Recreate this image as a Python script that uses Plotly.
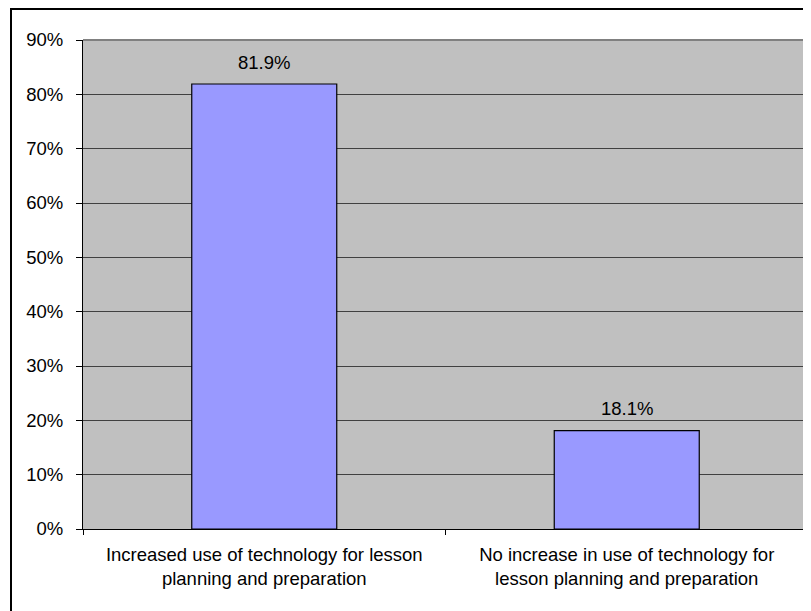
import plotly.graph_objects as go

categories = [
    "Increased use of technology for lesson<br>planning and preparation",
    "No increase in use of technology for<br>lesson planning and preparation",
]
values = [81.9, 18.1]
tick_vals = [0, 10, 20, 30, 40, 50, 60, 70, 80, 90]
tick_text = ["0%", "10%", "20%", "30%", "40%", "50%", "60%", "70%", "80%", "90%"]

FONT = "Liberation Sans, Arial, sans-serif"
FS = 18.5

# page is offset by the 8px default body margin
OFF = 8
W, H = 811 - OFF, 611 - OFF
L, R, T, B = 83 - OFF, 3, 40 - OFF, 82
pw = W - L - R
ph = H - T - B

fig = go.Figure()
fig.add_trace(go.Bar(
    x=categories, y=values, width=0.4,
    marker=dict(color="#9999FF", line=dict(color="#000000", width=1.2)),
    hoverinfo="skip",
))

for c, v in zip(categories, values):
    fig.add_annotation(x=c, y=v, text=f"{v:.1f}%", showarrow=False,
                       yanchor="middle", yshift=22,
                       font=dict(family=FONT, size=FS, color="#000000"))


def px_to_paper_x(px):
    return (px - OFF - L) / pw


def px_to_paper_y(py):
    return (H - B - (py - OFF)) / ph


# outer frame (top and left visible; right/bottom run off the page)
fig.add_shape(type="rect", xref="paper", yref="paper",
              x0=px_to_paper_x(11), x1=px_to_paper_x(830),
              y0=px_to_paper_y(640), y1=px_to_paper_y(9),
              line=dict(color="#000000", width=2), layer="above")
# plot area top/right border
fig.add_shape(type="line", xref="paper", yref="paper", x0=0, x1=1, y0=1, y1=1,
              line=dict(color="#808080", width=2), layer="below")
fig.add_shape(type="line", xref="paper", yref="paper", x0=1, x1=1, y0=0, y1=1,
              line=dict(color="#808080", width=2), layer="below")

fig.update_layout(
    width=W, height=H,
    margin=dict(l=L, r=R, t=T, b=B, autoexpand=False),
    paper_bgcolor="#FFFFFF",
    plot_bgcolor="#C0C0C0",
    showlegend=False,
    font=dict(family=FONT, size=FS, color="#000000"),
)
fig.update_xaxes(
    showline=True, linecolor="#000000", linewidth=1,
    ticks="outside", tickson="boundaries", ticklen=5, tickcolor="#000000",
    showgrid=False, tickfont=dict(family=FONT, size=FS, color="#000000"),
    ticklabelstandoff=9,
)
fig.update_yaxes(
    range=[0, 90], tickvals=tick_vals, ticktext=tick_text,
    showline=True, linecolor="#000000", linewidth=1,
    ticks="outside", ticklen=6, tickcolor="#000000",
    showgrid=True, gridcolor="#404040", gridwidth=1,
    zeroline=False, ticklabelstandoff=9,
    tickfont=dict(family=FONT, size=FS, color="#000000"),
)

fig.write_html("out.html")
